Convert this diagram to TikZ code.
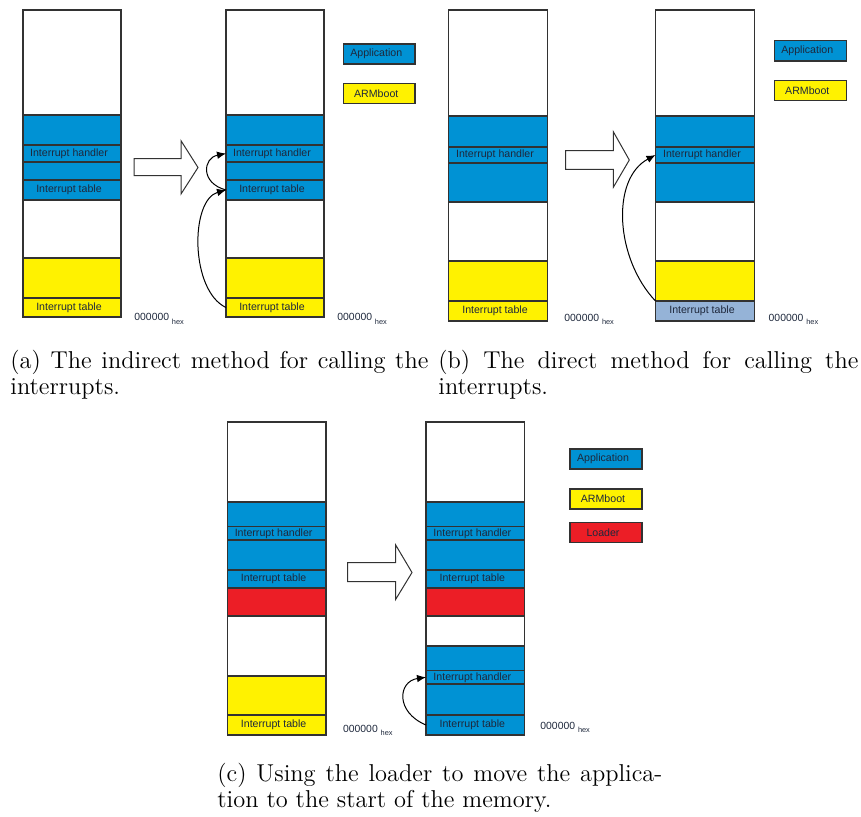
\documentclass[tikz,border=0pt]{standalone}
\usepackage{fontspec}
\newfontfamily\lsans{Liberation Sans}
\usetikzlibrary{arrows.meta}

\definecolor{appblue}{RGB}{0,146,212}
\definecolor{bootyellow}{RGB}{255,242,0}
\definecolor{loadred}{RGB}{236,30,38}
\definecolor{movedblue}{RGB}{149,179,215}
\definecolor{edgegray}{RGB}{50,50,50}
\definecolor{labeltext}{RGB}{30,40,60}

\tikzset{
  seg/.style={rectangle, draw=edgegray, line width=0.65pt, inner sep=0pt,
    outer sep=0pt, anchor=north west},
  seglabel/.style={font=\lsans\fontsize{5.3}{6}\selectfont, text=labeltext,
    inner sep=0pt},
  hollow/.style={draw=edgegray, line width=0.5pt, fill=white, line join=miter},
  jump/.style={draw=black, line width=0.5pt, -{Latex[length=4.5pt,width=3.8pt]}},
  addr/.style={font=\lsans\fontsize{5.2}{6}\selectfont, text=labeltext,
    anchor=base west, inner sep=0pt},
  capt/.style={font=\fontsize{12.2}{13.4}\selectfont, anchor=base west,
    inner sep=0pt},
}

% memory block: name, x, top, bottom, fill, text, width (all in px units)
\newcommand\memblk[7]{%
  \pgfmathsetlengthmacro\blkh{((#4)-(#3))*0.5pt}%
  \pgfmathsetlengthmacro\blkw{(#7)*0.5pt}%
  \node[seg, fill=#5, minimum height=\blkh, minimum width=\blkw] (#1) at (#2,#3) {};%
  \def\blktext{#6}%
  \ifx\blktext\empty\else
    \node[seglabel] (#1-t) at ([xshift=-1.5pt]#1.center) {#6};%
  \fi}

\newcommand\addrlabel[3]{%
  \node[addr] (#1) at (#2,#3) {000000 \raisebox{-1.65pt}{\fontsize{3.7}{4}\selectfont hex}};}

\begin{document}
\begin{tikzpicture}[x=0.5pt, y=-0.5pt]
\useasboundingbox (0,0) rectangle (861,816);

% ---------- (a) indirect method ----------
\memblk{aL1}{23}{10}{115}{white}{}{98}
\memblk{aL2}{23}{115}{145}{appblue}{}{98}
\memblk{aL3}{23}{145}{162}{appblue}{Interrupt handler}{98}
\memblk{aL4}{23}{162}{180}{appblue}{}{98}
\memblk{aL5}{23}{180}{200}{appblue}{Interrupt table}{98}
\memblk{aL6}{23}{200}{258}{white}{}{98}
\memblk{aL7}{23}{258}{298}{bootyellow}{}{98}
\memblk{aL8}{23}{298}{317}{bootyellow}{Interrupt table}{98}

\memblk{aR1}{226}{10}{115}{white}{}{98}
\memblk{aR2}{226}{115}{145}{appblue}{}{98}
\memblk{aR3}{226}{145}{162}{appblue}{Interrupt handler}{98}
\memblk{aR4}{226}{162}{180}{appblue}{}{98}
\memblk{aR5}{226}{180}{200}{appblue}{Interrupt table}{98}
\memblk{aR6}{226}{200}{258}{white}{}{98}
\memblk{aR7}{226}{258}{298}{bootyellow}{}{98}
\memblk{aR8}{226}{298}{317}{bootyellow}{Interrupt table}{98}

\draw[hollow] (134,158.5) -- (181,158.5) -- (181,140.7) -- (198,167.5)
  -- (181,194) -- (181,175.5) -- (134,175.5) -- cycle;

\addrlabel{aLaddr}{134}{320.7}
\addrlabel{aRaddr}{337}{320.7}

\memblk{aApp}{343.5}{44}{64}{appblue}{Application}{71.5}
\memblk{aBoot}{343.5}{83.5}{103.5}{bootyellow}{ARMboot}{71.5}

\draw[jump] (aR5.west) .. controls +(-26,-7) and +(-23,4.5) .. (aR3.west);
\draw[jump] (aR8.west) .. controls +(-36,-17) and +(-36,10) .. (aR5.west);

\node[capt] (capa1) at (10,368) {\makebox[209pt][s]{(a) The indirect method for calling the}};
\node[capt] (capa2) at (10,394.7) {interrupts.};

% ---------- (b) direct method ----------
\memblk{bL1}{448.5}{10}{116}{white}{}{99}
\memblk{bL2}{448.5}{116}{147}{appblue}{}{99}
\memblk{bL3}{448.5}{147}{163}{appblue}{Interrupt handler}{99}
\memblk{bL4}{448.5}{163}{202}{appblue}{}{99}
\memblk{bL5}{448.5}{202}{261}{white}{}{99}
\memblk{bL6}{448.5}{261}{301}{bootyellow}{}{99}
\memblk{bL7}{448.5}{301}{321}{bootyellow}{Interrupt table}{99}

\memblk{bR1}{655.5}{10}{116}{white}{}{99}
\memblk{bR2}{655.5}{116}{147}{appblue}{}{99}
\memblk{bR3}{655.5}{147}{163}{appblue}{Interrupt handler}{99}
\memblk{bR4}{655.5}{163}{202}{appblue}{}{99}
\memblk{bR5}{655.5}{202}{261}{white}{}{99}
\memblk{bR6}{655.5}{261}{301}{bootyellow}{}{99}
\memblk{bR7}{655.5}{301}{321}{movedblue}{Interrupt table}{99}

\draw[hollow] (565.7,150.7) -- (613.3,150.7) -- (613.3,131.7) -- (629.3,160)
  -- (613.3,187.3) -- (613.3,169.3) -- (565.7,169.3) -- cycle;

\addrlabel{bLaddr}{564}{321.5}
\addrlabel{bRaddr}{768.3}{321.5}

\memblk{bApp}{774.3}{40.5}{61}{appblue}{Application}{72}
\memblk{bBoot}{774.3}{80.3}{100.7}{bootyellow}{ARMboot}{72}

\draw[jump] (bR7.north west) .. controls +(-40,-42) and +(-45,24) .. (bR3.west);

\node[capt] (capb1) at (438,368) {\makebox[210pt][s]{(b) The direct method for calling the}};
\node[capt] (capb2) at (438,394.7) {interrupts.};

% ---------- (c) loader moves the application ----------
\memblk{cL1}{227.3}{422}{502}{white}{}{98.7}
\memblk{cL2}{227.3}{502}{526.5}{appblue}{}{98.7}
\memblk{cL3}{227.3}{526.5}{540}{appblue}{Interrupt handler}{98.7}
\memblk{cL4}{227.3}{540}{570}{appblue}{}{98.7}
\memblk{cL5}{227.3}{570}{588}{appblue}{Interrupt table}{98.7}
\memblk{cL6}{227.3}{588}{616}{loadred}{}{98.7}
\memblk{cL7}{227.3}{616}{676}{white}{}{98.7}
\memblk{cL8}{227.3}{676}{715}{bootyellow}{}{98.7}
\memblk{cL9}{227.3}{715}{735}{bootyellow}{Interrupt table}{98.7}

\memblk{cR1}{426}{422}{502}{white}{}{98.7}
\memblk{cR2}{426}{502}{526.5}{appblue}{}{98.7}
\memblk{cR3}{426}{526.5}{540}{appblue}{Interrupt handler}{98.7}
\memblk{cR4}{426}{540}{570}{appblue}{}{98.7}
\memblk{cR5}{426}{570}{588}{appblue}{Interrupt table}{98.7}
\memblk{cR6}{426}{588}{616}{loadred}{}{98.7}
\memblk{cR7}{426}{616}{646}{white}{}{98.7}
\memblk{cR8}{426}{646}{670.5}{appblue}{}{98.7}
\memblk{cR9}{426}{670.5}{684}{appblue}{Interrupt handler}{98.7}
\memblk{cR10}{426}{684}{715}{appblue}{}{98.7}
\memblk{cR11}{426}{715}{735}{appblue}{Interrupt table}{98.7}

\draw[hollow] (347.7,562.7) -- (395.7,562.7) -- (395.7,545) -- (412,572.5)
  -- (395.7,599.3) -- (395.7,581.7) -- (347.7,581.7) -- cycle;

\addrlabel{cLaddr}{342.7}{732.5}
\addrlabel{cRaddr}{540}{729.5}

\memblk{cApp}{570}{449}{469}{appblue}{Application}{72}
\memblk{cBoot}{570}{489}{509}{bootyellow}{ARMboot}{72}
\memblk{cLoad}{570}{522.7}{542.3}{loadred}{Loader}{72}

\draw[jump] (cR11.west) .. controls +(-31,-13) and +(-28,4) .. (cR9.west);

\node[capt] (capc1) at (217,781) {\makebox[222.5pt][s]{(c) Using the loader to move the applica-}};
\node[capt] (capc2) at (217,807.7) {tion to the start of the memory.};
\end{tikzpicture}
\end{document}
